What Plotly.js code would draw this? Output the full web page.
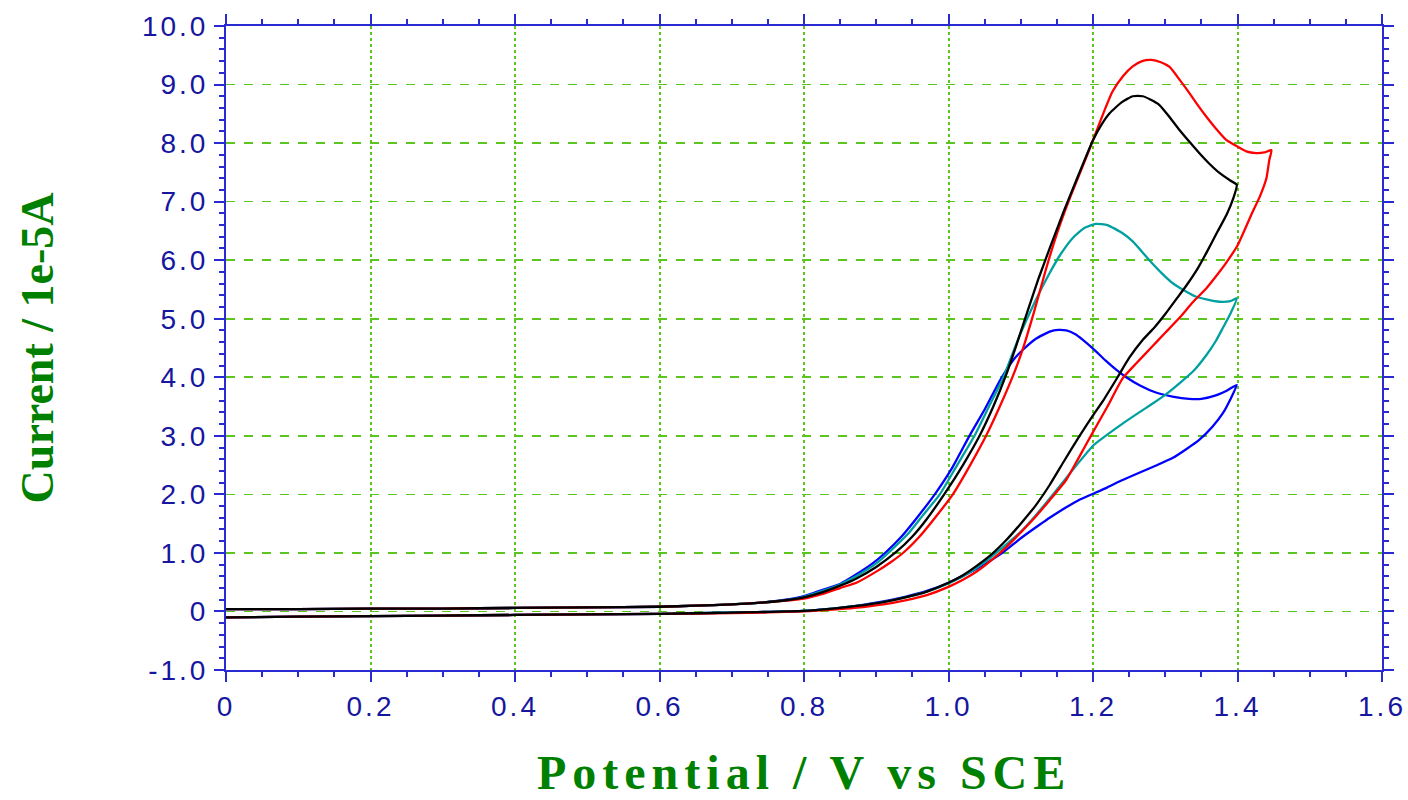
<!DOCTYPE html>
<html>
<head>
<meta charset="utf-8">
<script src="https://cdn.plot.ly/plotly-3.0.1.min.js"></script>
<style>
  html, body { margin: 0; padding: 0; background: #ffffff; }
  #chart { width: 1408px; height: 800px; }
  .xtick text, .ytick text { letter-spacing: 3px; }
  .annotation-text { letter-spacing: 6px; }
</style>
</head>
<body>
<div id="chart"></div>
<script>
// ---- tick definitions ----
const xTickVals = [0, 0.2, 0.4, 0.6, 0.8, 1.0, 1.2, 1.4, 1.6];
const xTickText = ["0", "0.2", "0.4", "0.6", "0.8", "1.0", "1.2", "1.4", "1.6"];
const yTickVals = [-1, 0, 1, 2, 3, 4, 5, 6, 7, 8, 9, 10];
const yTickText = ["-1.0", "0", "1.0", "2.0", "3.0", "4.0", "5.0", "6.0", "7.0", "8.0", "9.0", "10.0"];
const xTitleText = "Potential / V vs SCE";
const yTitleText = "Current / 1e-5A";

// ---- series (Potential / V, Current / 1e-5 A) ----
const blueX = [0, 0.1, 0.2, 0.3, 0.4, 0.5, 0.6, 0.65, 0.7, 0.74, 0.78, 0.8, 0.826, 0.85, 0.872, 0.895, 0.914, 0.935, 0.955, 0.981,
  1.004, 1.029, 1.05, 1.072, 1.09, 1.103, 1.12, 1.14, 1.152, 1.163, 1.175, 1.186, 1.2, 1.218, 1.232, 1.246, 1.265, 1.287, 1.31, 1.333,
  1.35, 1.37, 1.385, 1.399,
  1.39, 1.38, 1.365, 1.347, 1.33, 1.31, 1.285, 1.264, 1.24, 1.22, 1.2, 1.18, 1.163, 1.14, 1.126, 1.1, 1.071, 1.04, 1.0, 0.97,
  0.94, 0.9, 0.87, 0.84, 0.8, 0.7, 0.6, 0.5, 0.4, 0.3, 0.2, 0.1, 0];
const blueY = [0.04, 0.04, 0.05, 0.05, 0.06, 0.07, 0.08, 0.10, 0.12, 0.15, 0.21, 0.26, 0.37, 0.47, 0.63, 0.82, 1.02, 1.28, 1.58, 2.0,
  2.43, 3.0, 3.45, 3.96, 4.30, 4.47, 4.65, 4.78, 4.81, 4.80, 4.74, 4.64, 4.49, 4.28, 4.13, 4.00, 3.86, 3.74, 3.67, 3.63,
  3.63, 3.69, 3.77, 3.87,
  3.62, 3.39, 3.15, 2.93, 2.78, 2.62, 2.48, 2.37, 2.24, 2.12, 2.01, 1.90, 1.78, 1.60, 1.48, 1.25, 0.97, 0.74, 0.49, 0.35,
  0.25, 0.15, 0.09, 0.05, 0.01, -0.02, -0.04, -0.05, -0.06, -0.07, -0.08, -0.09, -0.10];

const tealX = [0, 0.1, 0.2, 0.3, 0.4, 0.5, 0.6, 0.65, 0.7, 0.74, 0.78, 0.8, 0.826, 0.85, 0.872, 0.9, 0.92, 0.945, 0.965, 0.988,
  1.012, 1.036, 1.056, 1.076, 1.098, 1.12, 1.14, 1.154, 1.172, 1.188, 1.204, 1.22, 1.241, 1.255, 1.278, 1.295, 1.31, 1.324, 1.342, 1.357,
  1.375, 1.39, 1.399,
  1.39, 1.38, 1.37, 1.357, 1.34, 1.32, 1.30, 1.28, 1.264, 1.24, 1.21, 1.2, 1.172, 1.148, 1.12, 1.1, 1.071, 1.05, 1.02, 1.0,
  0.97, 0.94, 0.91, 0.87, 0.84, 0.8, 0.7, 0.6, 0.5, 0.4, 0.3, 0.2, 0.1, 0];
const tealY = [0.04, 0.04, 0.05, 0.05, 0.06, 0.07, 0.08, 0.10, 0.12, 0.15, 0.20, 0.25, 0.35, 0.46, 0.60, 0.82, 1.04, 1.34, 1.65, 2.0,
  2.5, 3.0, 3.5, 4.0, 4.70, 5.30, 5.78, 6.08, 6.38, 6.55, 6.62, 6.60, 6.46, 6.32, 6.00, 5.78, 5.61, 5.50, 5.38, 5.33,
  5.29, 5.30, 5.35,
  5.08, 4.85, 4.62, 4.38, 4.12, 3.90, 3.70, 3.53, 3.40, 3.20, 2.93, 2.83, 2.42, 2.05, 1.63, 1.36, 1.05, 0.84, 0.60, 0.48,
  0.34, 0.24, 0.16, 0.09, 0.05, 0.01, -0.02, -0.04, -0.05, -0.06, -0.07, -0.08, -0.09, -0.10];

const redX = [0, 0.1, 0.2, 0.3, 0.4, 0.5, 0.6, 0.65, 0.7, 0.74, 0.78, 0.8, 0.826, 0.85, 0.874, 0.9, 0.92, 0.939, 0.96, 0.98, 1.006,
  1.03, 1.052, 1.071, 1.09, 1.102, 1.118, 1.135, 1.15, 1.167, 1.185, 1.2, 1.214, 1.227, 1.242, 1.255, 1.268, 1.281, 1.294, 1.306, 1.32,
  1.332, 1.345, 1.357, 1.37, 1.384, 1.4, 1.412, 1.426, 1.437, 1.447,
  1.444, 1.44, 1.431, 1.42, 1.41, 1.4, 1.384, 1.37, 1.357, 1.338, 1.32, 1.3, 1.28, 1.26, 1.241, 1.22, 1.198, 1.18, 1.163, 1.14,
  1.117, 1.1, 1.08, 1.06, 1.04, 1.02, 1.0, 0.97, 0.94, 0.91, 0.87, 0.84, 0.8, 0.7, 0.6, 0.5, 0.4, 0.3, 0.2, 0.1, 0];
const redY = [0.04, 0.04, 0.05, 0.05, 0.06, 0.07, 0.08, 0.10, 0.12, 0.15, 0.19, 0.22, 0.30, 0.40, 0.50, 0.68, 0.84, 1.02, 1.28, 1.58, 2.0,
  2.5, 3.0, 3.5, 4.05, 4.45, 5.1, 5.85, 6.45, 7.03, 7.58, 8.05, 8.50, 8.88, 9.15, 9.31, 9.40, 9.42, 9.38, 9.30, 9.08,
  8.88, 8.65, 8.45, 8.25, 8.06, 7.94, 7.86, 7.83, 7.84, 7.88,
  7.71, 7.40, 7.09, 6.80, 6.52, 6.25, 5.95, 5.72, 5.52, 5.28, 5.02, 4.76, 4.50, 4.24, 3.98, 3.50, 3.02, 2.62, 2.25, 1.90,
  1.57, 1.35, 1.10, 0.88, 0.69, 0.54, 0.42, 0.28, 0.19, 0.12, 0.06, 0.03, 0.0, -0.03, -0.04, -0.05, -0.06, -0.07, -0.08, -0.09, -0.10];

const blackX = [0, 0.1, 0.2, 0.3, 0.4, 0.5, 0.6, 0.65, 0.7, 0.74, 0.78, 0.8, 0.826, 0.85, 0.872, 0.9, 0.928, 0.95, 0.97, 0.994,
  1.02, 1.043, 1.062, 1.08, 1.094, 1.11, 1.125, 1.14, 1.16, 1.18, 1.2, 1.212, 1.223, 1.24, 1.255, 1.269, 1.28, 1.292, 1.305, 1.32,
  1.335, 1.347, 1.36, 1.375, 1.39, 1.399,
  1.394, 1.385, 1.372, 1.358, 1.345, 1.33, 1.315, 1.3, 1.285, 1.269, 1.25, 1.234, 1.215, 1.2, 1.181, 1.16, 1.14, 1.12, 1.1, 1.08,
  1.06, 1.038, 1.02, 1.0, 0.97, 0.94, 0.91, 0.87, 0.84, 0.8, 0.7, 0.6, 0.5, 0.4, 0.3, 0.2, 0.1, 0];
const blackY = [0.04, 0.04, 0.05, 0.05, 0.06, 0.07, 0.08, 0.10, 0.12, 0.15, 0.20, 0.24, 0.33, 0.44, 0.56, 0.76, 1.02, 1.28, 1.58, 2.0,
  2.5, 3.0, 3.5, 4.05, 4.55, 5.15, 5.7, 6.2, 6.85, 7.46, 8.05, 8.32, 8.51, 8.70, 8.80, 8.80, 8.74, 8.65, 8.46, 8.22,
  8.00, 7.83, 7.66, 7.49, 7.36, 7.29,
  7.05, 6.78, 6.48, 6.15, 5.86, 5.58, 5.33, 5.08, 4.85, 4.64, 4.33, 4.00, 3.62, 3.35, 2.99, 2.57, 2.16, 1.80, 1.50, 1.22,
  0.98, 0.77, 0.62, 0.49, 0.34, 0.24, 0.16, 0.09, 0.05, 0.01, -0.02, -0.04, -0.05, -0.06, -0.07, -0.08, -0.09, -0.10];

const seriesNames = ["blue", "teal", "red", "black"];
const seriesColors = ["#0000ff", "#00a0a0", "#ff0000", "#000000"];
const seriesXs = [blueX, tealX, redX, blackX];
const seriesYs = [blueY, tealY, redY, blackY];

const traces = seriesNames.map((n, i) => ({
  type: "scatter",
  mode: "lines",
  name: n,
  x: seriesXs[i],
  y: seriesYs[i],
  line: { color: seriesColors[i], width: 2.3, shape: "spline", smoothing: 0.5 },
  hoverinfo: "x+y"
}));

const axisBlue = "#2a2ad2";
const labelBlue = "#16169e";
const gridGreen = "#5cc620";

const tickFont = { family: "Liberation Sans, Arial, sans-serif", size: 28, color: labelBlue };
const titleFamily = "Liberation Serif, Times New Roman, serif";

const layout = {
  width: 1408,
  height: 800,
  margin: { l: 226, r: 26, t: 26, b: 130 },
  paper_bgcolor: "#ffffff",
  plot_bgcolor: "#ffffff",
  showlegend: false,
  xaxis: {
    range: [0, 1.6],
    tickmode: "array",
    tickvals: xTickVals,
    ticktext: xTickText,
    tickfont: tickFont,
    ticks: "outside",
    ticklen: 10,
    tickwidth: 2,
    tickcolor: axisBlue,
    showline: true,
    linecolor: axisBlue,
    linewidth: 2,
    mirror: "allticks",
    showgrid: true,
    gridcolor: gridGreen,
    griddash: "dot",
    gridwidth: 2,
    zeroline: false,
    minor: { tickmode: "linear", tick0: 0, dtick: 0.05, ticks: "outside", ticklen: 5, tickwidth: 2, tickcolor: axisBlue, showgrid: false }
  },
  yaxis: {
    range: [-1, 10],
    tickmode: "array",
    tickvals: yTickVals,
    ticktext: yTickText,
    tickfont: tickFont,
    ticks: "outside",
    ticklen: 10,
    tickwidth: 2,
    tickcolor: axisBlue,
    showline: true,
    linecolor: axisBlue,
    linewidth: 2,
    mirror: "allticks",
    showgrid: true,
    gridcolor: gridGreen,
    griddash: "dash",
    gridwidth: 1.6,
    zeroline: false,
    minor: { tickmode: "linear", tick0: 0, dtick: 0.2, ticks: "outside", ticklen: 5, tickwidth: 2, tickcolor: axisBlue, showgrid: false },
    title: { text: yTitleText, font: { family: titleFamily, size: 46, color: "#008000", weight: "bold" }, standoff: 74 }
  },
  annotations: [{
    text: xTitleText,
    xref: "paper", yref: "paper",
    x: 0.5, y: -0.159,
    xanchor: "center", yanchor: "middle",
    showarrow: false,
    font: { family: titleFamily, size: 48, color: "#008000", weight: "bold" }
  }]
};

Plotly.newPlot("chart", traces, layout, { displayModeBar: false, staticPlot: true });
</script>
</body>
</html>
